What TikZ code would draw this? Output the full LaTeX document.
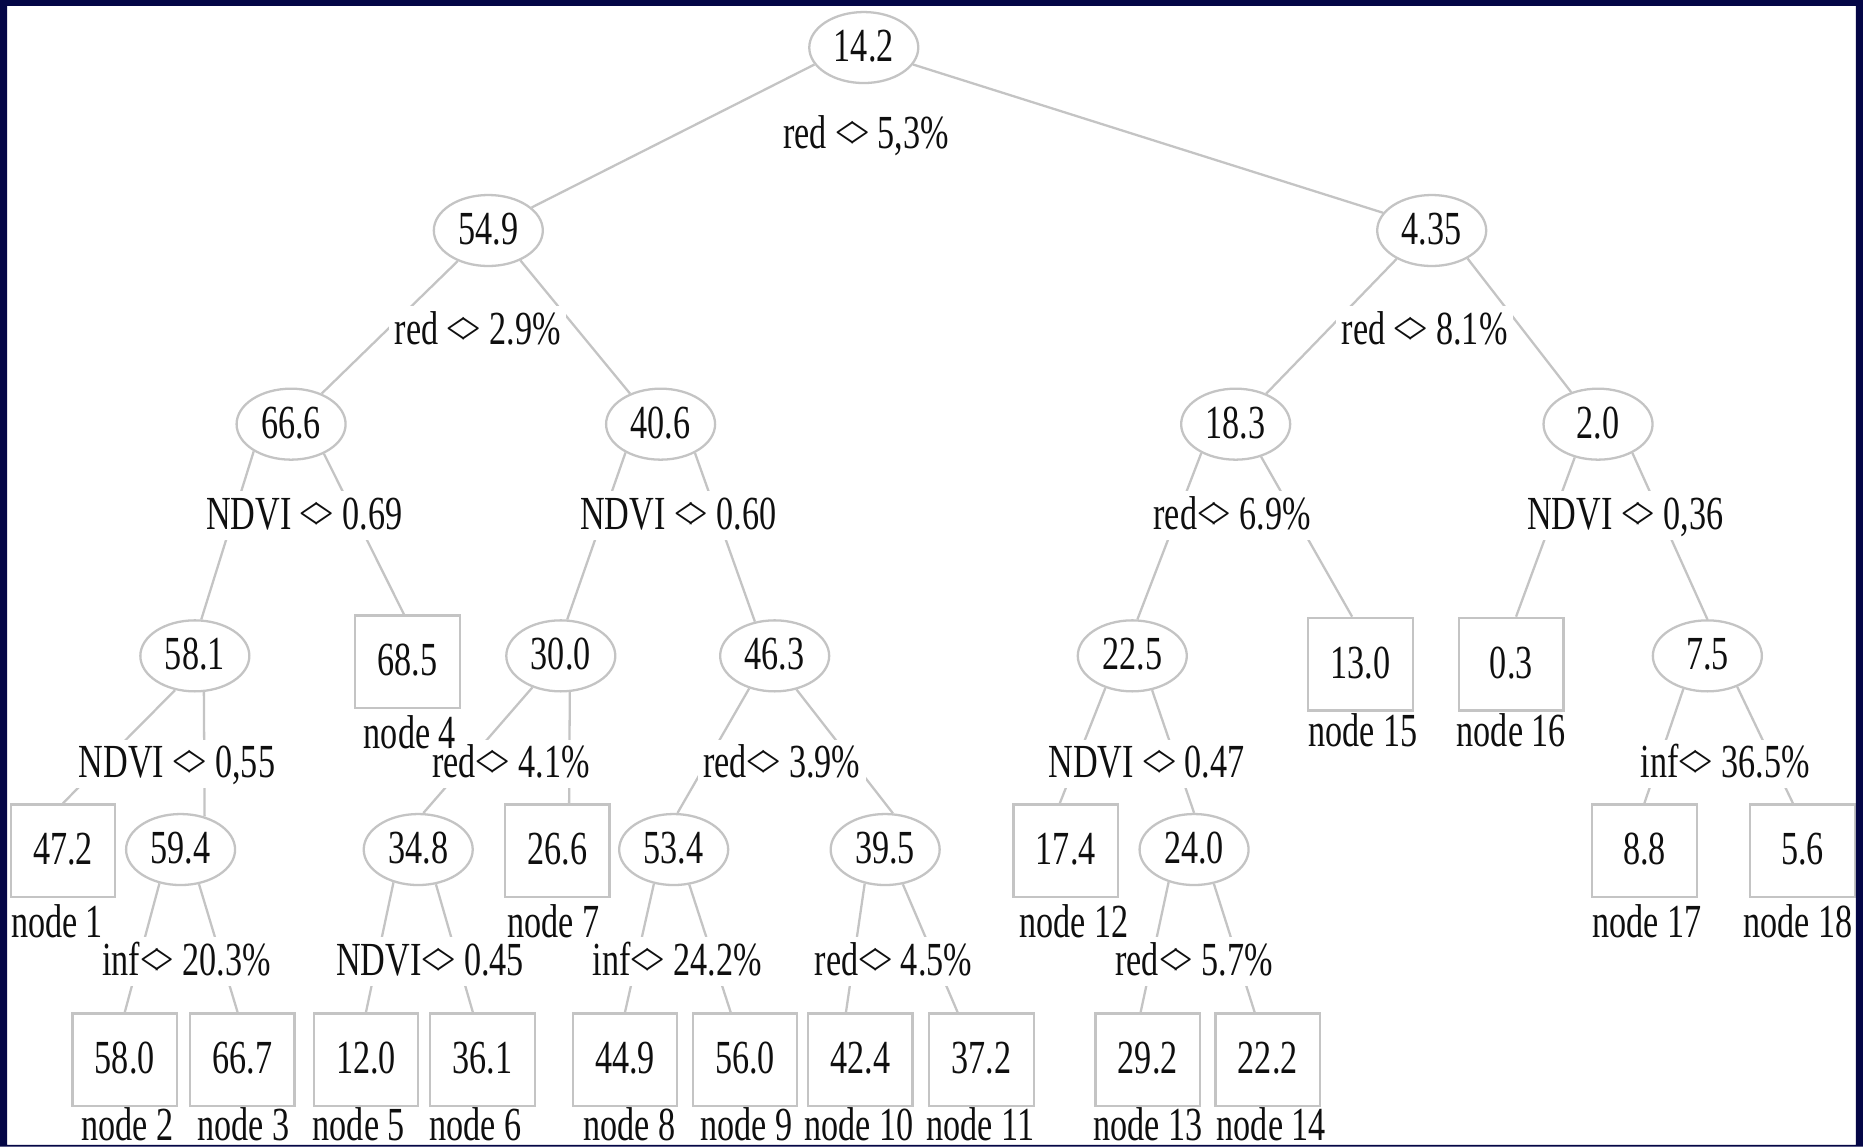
\documentclass[tikz,border=0pt]{standalone}
\usepackage{fontspec}
\setmainfont[FakeStretch=0.72]{Liberation Serif}
\usetikzlibrary{calc,shapes.geometric}
\definecolor{framecol}{RGB}{4,6,70}
\definecolor{edgecol}{RGB}{196,196,196}
\definecolor{inkcol}{RGB}{15,15,15}
\newcommand{\cmpop}{<\kern-1.3pt>}
\begin{document}
\begin{tikzpicture}[x=0.1188mm,y=-0.1188mm,
  every node/.style={font=\fontsize{13.5}{14}\selectfont, text=inkcol, inner sep=0pt, text height=9.4pt, text depth=1.5pt},
  split/.style={ellipse, draw=edgecol, line width=0.65pt, minimum width=10.9mm, minimum height=7.1mm, fill=white},
  leaf/.style={rectangle, draw=edgecol, line width=0.65pt, minimum width=10.45mm, minimum height=9.27mm, fill=white},
  rulelab/.style={fill=white, inner sep=1.5pt},
  conn/.style={draw=edgecol, line width=0.65pt}]
\useasboundingbox (0,0) rectangle (1568,965);
\fill[white] (0,0) rectangle (1568,965);
% internal nodes
\node[split] (A) at (727,40) {14.2};
\node[split] (B) at (411,194) {54.9};
\node[split] (C) at (1205,194) {4.35};
\node[split] (D) at (245,357) {66.6};
\node[split] (E) at (556,357) {40.6};
\node[split] (F) at (1040,357) {18.3};
\node[split] (G) at (1345,357) {2.0};
\node[split] (H) at (164,552) {58.1};
\node[split] (J) at (472,552) {30.0};
\node[split] (K) at (652,552) {46.3};
\node[split] (L) at (953,552) {22.5};
\node[split] (O) at (1437,552) {7.5};
\node[split] (Q) at (152,715) {59.4};
\node[split] (R) at (352,715) {34.8};
\node[split] (T) at (567,715) {53.4};
\node[split] (U) at (745,715) {39.5};
\node[split] (W) at (1005,715) {24.0};
% leaves
\node[leaf] (I) at (343,557) {68.5};
\node[leaf] (M) at (1145,559) {13.0};
\node[leaf] (N) at (1272,559) {0.3};
\node[leaf] (P) at (53,716) {47.2};
\node[leaf] (S) at (469,716) {26.6};
\node[leaf] (V) at (897,716) {17.4};
\node[leaf] (X) at (1384,716) {8.8};
\node[leaf] (Y) at (1517,716) {5.6};
\node[leaf] (l2) at (105,892) {58.0};
\node[leaf] (l3) at (204,892) {66.7};
\node[leaf] (l5) at (308,892) {12.0};
\node[leaf] (l6) at (406,892) {36.1};
\node[leaf] (l8) at (526,892) {44.9};
\node[leaf] (l9) at (627,892) {56.0};
\node[leaf] (l10) at (724,892) {42.4};
\node[leaf] (l11) at (826,892) {37.2};
\node[leaf] (l13) at (966,892) {29.2};
\node[leaf] (l14) at (1067,892) {22.2};
% connectors
\path[conn] (A.199) -- (B.28);
\path[conn] (A.341) -- (C.160);
\path[conn] (B.225) -- (D.45);
\path[conn] (B.317) -- (E.135);
\path[conn] (C.219) -- (F.45);
\path[conn] (C.322) -- (G.130);
\path[conn] (D.216) -- (H.80);
\path[conn] (D.318) -- ($(I.north)+(-3,0)$);
\path[conn] (E.219) -- (J.80);
\path[conn] (E.320) -- (K.120);
\path[conn] (F.220) -- (L.82);
\path[conn] (F.308) -- ($(M.north)+(-7,0)$);
\path[conn] (G.235) -- ($(N.north)+(4,0)$);
\path[conn] (G.320) -- (O.north);
\path[conn] (H.240) -- (P.north);
\path[conn] (H.284) -- (Q.54);
\path[conn] (J.228) -- (R.82);
\path[conn] (J.284) -- ($(S.north)+(10,0)$);
\path[conn] (K.232) -- (T.84);
\path[conn] (K.303) -- (U.78);
\path[conn] (L.230) -- ($(V.north)+(-5,0)$);
\path[conn] (L.300) -- (W.north);
\path[conn] (O.234) -- (X.north);
\path[conn] (O.314) -- ($(Y.north)+(-8,0)$);
\path[conn] (Q.238) -- (l2.north);
\path[conn] (Q.298) -- ($(l3.north)+(-4,0)$);
\path[conn] (R.233) -- (l5.north);
\path[conn] (R.297) -- ($(l6.north)+(-8,0)$);
\path[conn] (T.240) -- (l8.north);
\path[conn] (T.294) -- ($(l9.north)+(-12,0)$);
\path[conn] (U.239) -- ($(l10.north)+(-12,0)$);
\path[conn] (U.297) -- ($(l11.north)+(-20,0)$);
\path[conn] (W.232) -- ($(l13.north)+(-6,0)$);
\path[conn] (W.300) -- ($(l14.north)+(-11,0)$);
% split rules
\node[rulelab] (rA) at (729,113) {red \cmpop{} 5,3\%};
\node[rulelab] (rB) at (402,278) {red \cmpop{} 2.9\%};
\node[rulelab] (rC) at (1199,278) {red \cmpop{} 8.1\%};
\node[rulelab] (rD) at (256,434) {NDVI \cmpop{} 0.69};
\node[rulelab] (rE) at (571,434) {NDVI \cmpop{} 0.60};
\node[rulelab] (rF) at (1037,434) {red\cmpop{} 6.9\%};
\node[rulelab] (rG) at (1368,434) {NDVI \cmpop{} 0,36};
\node[rulelab] (rH) at (149,643) {NDVI \cmpop{} 0,55};
\node[rulelab] (rJ) at (430,643) {red\cmpop{} 4.1\%};
\node[rulelab] (rK) at (658,643) {red\cmpop{} 3.9\%};
\node[rulelab] (rL) at (965,643) {NDVI \cmpop{} 0.47};
\node[rulelab] (rO) at (1452,643) {inf\cmpop{} 36.5\%};
\node[rulelab] (rQ) at (157,809) {inf\cmpop{} 20.3\%};
\node[rulelab] (rR) at (362,809) {NDVI\cmpop{} 0.45};
\node[rulelab] (rT) at (570,809) {inf\cmpop{} 24.2\%};
\node[rulelab] (rU) at (752,809) {red\cmpop{} 4.5\%};
\node[rulelab] (rW) at (1005,809) {red\cmpop{} 5.7\%};
% leaf names
\node (n1) at (48,777) {node 1};
\node (n4) at (345,618) {node 4};
\node (n7) at (466,777) {node 7};
\node (n12) at (904,777) {node 12};
\node (n15) at (1147,617) {node 15};
\node (n16) at (1272,617) {node 16};
\node (n17) at (1386,777) {node 17};
\node (n18) at (1513,777) {node 18};
\node (n2) at (107,948) {node 2};
\node (n3) at (205,948) {node 3};
\node (n5) at (302,948) {node 5};
\node (n6) at (400,948) {node 6};
\node (n8) at (530,948) {node 8};
\node (n9) at (628,948) {node 9};
\node (n10) at (723,948) {node 10};
\node (n11) at (825,948) {node 11};
\node (n13) at (966,948) {node 13};
\node (n14) at (1070,948) {node 14};
% frame
\fill[framecol, even odd rule] (0,0) rectangle (1568,965) (6,5) rectangle (1562,963.5);
\end{tikzpicture}
\end{document}
